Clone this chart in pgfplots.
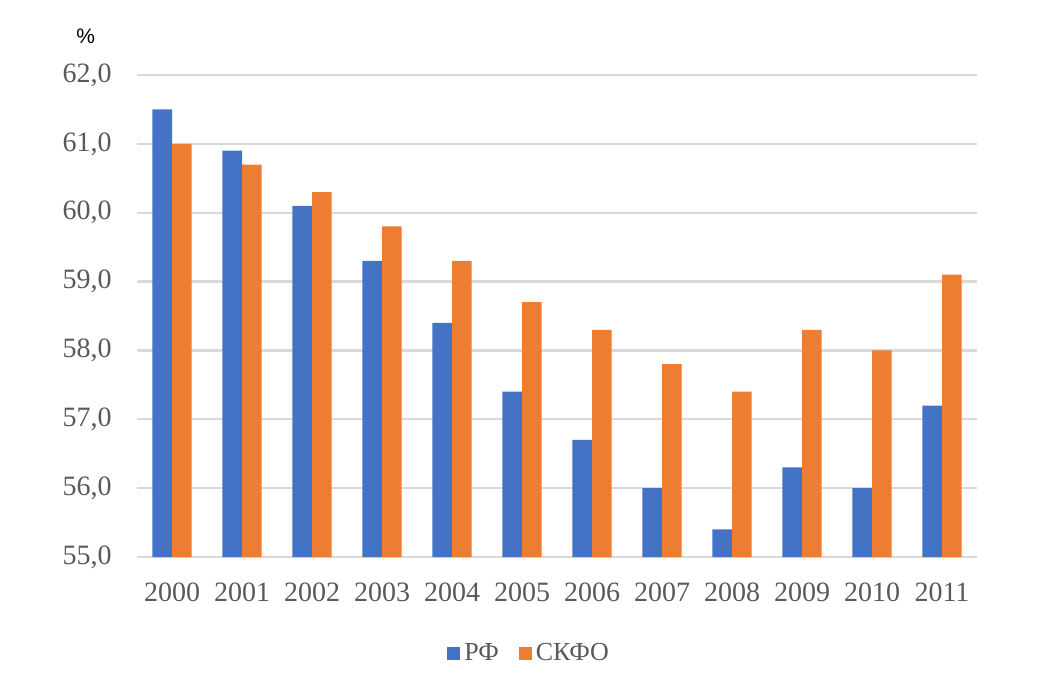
\documentclass[border=0pt]{standalone}
\usepackage{fontspec}
\setmainfont{Liberation Serif}
\newfontfamily\sansfont{Liberation Sans}
\usepackage{pgfplots}
\pgfplotsset{compat=1.18}
\definecolor{rfblue}{HTML}{4472C4}
\definecolor{skorange}{HTML}{ED7D31}
\definecolor{gridgray}{HTML}{D9D9D9}
\definecolor{labgray}{HTML}{595959}
\begin{document}
\begin{tikzpicture}
\useasboundingbox (0,0) rectangle (524.5pt,343pt);
\begin{axis}[
  name=ax,
  at={(68.5pt,64.5pt)}, anchor=south west,
  scale only axis,
  width=420pt, height=241pt,
  ybar=0pt, bar width=9.8pt,
  xmin=-0.5, xmax=11.5,
  ymin=55, ymax=62,
  ytick={55,56,...,62},
  xtick={0,...,11},
  xticklabels={2000,2001,2002,2003,2004,2005,2006,2007,2008,2009,2010,2011},
  axis line style={draw=none},
  major tick length=0pt,
  ymajorgrids,
  major grid style={gridgray, line width=1.2pt},
  /pgf/number format/.cd, fixed, fixed zerofill, precision=1, use comma, assume math mode=true,
  /pgfplots/.cd,
  yticklabel style={anchor=east, inner sep=0pt, xshift=-12.5pt, font=\fontsize{14}{16}\selectfont, text=labgray},
  xticklabel style={anchor=north, inner sep=0pt, yshift=-12.5pt, font=\fontsize{14}{16}\selectfont, text=labgray},
  legend columns=2,
  legend style={draw=none, at={(0.468,-0.201)}, anchor=center, font=\fontsize{13}{15}\selectfont, text=labgray,
    /tikz/every even column/.append style={column sep=8pt}},
  legend image code/.code={\fill[#1,draw=none] (0pt,-3.25pt) rectangle (6.5pt,3.25pt);},
]
\addplot[fill=rfblue, draw=none] coordinates {
(0,61.5) (1,60.9) (2,60.1) (3,59.3) (4,58.4) (5,57.4) (6,56.7) (7,56.0) (8,55.4) (9,56.3) (10,56.0) (11,57.2)};
\addplot[fill=skorange, draw=none] coordinates {
(0,61.0) (1,60.7) (2,60.3) (3,59.8) (4,59.3) (5,58.7) (6,58.3) (7,57.8) (8,57.4) (9,58.3) (10,58.0) (11,59.1)};
\legend{РФ,СКФО}
\end{axis}
\node[font=\sansfont\fontsize{10.5}{12}\selectfont, text=black] at ([shift={(-25.7pt,19.5pt)}]ax.north west) {\%};
\end{tikzpicture}
\end{document}
